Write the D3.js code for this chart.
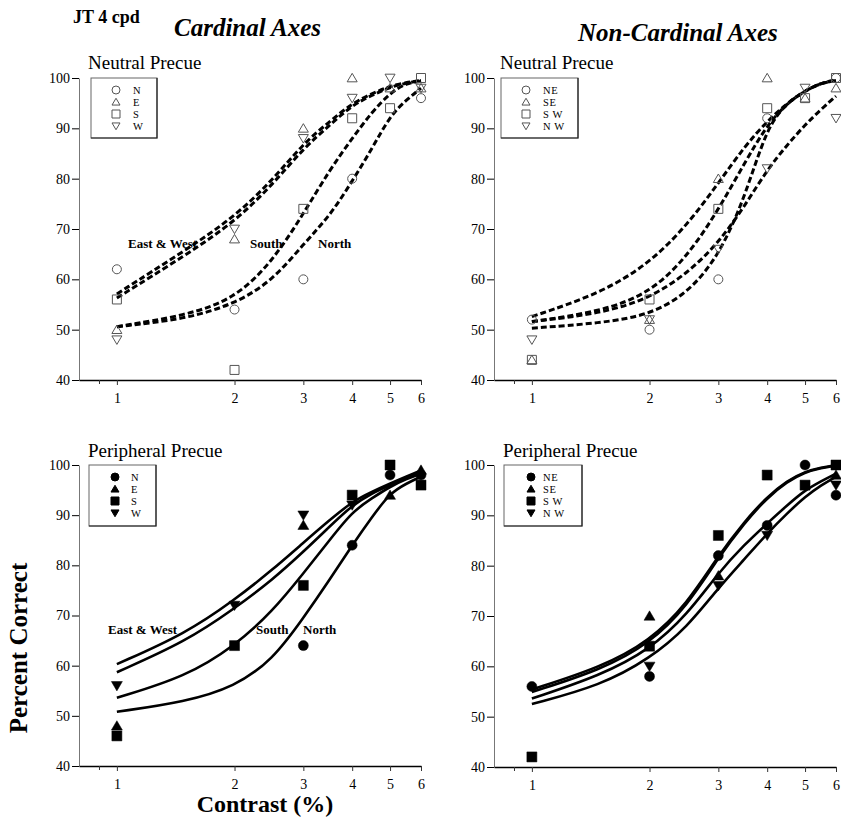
<!DOCTYPE html>
<html>
<head>
<meta charset="utf-8">
<script src="https://cdn.jsdelivr.net/npm/d3@7"></script>
<style>
  html, body { margin: 0; padding: 0; background: #fff; }
  svg { display: block; }
  text { font-family: "Liberation Serif", "Times New Roman", serif; fill: #000; }
</style>
</head>
<body>
<svg id="chart" width="841" height="822"></svg>
<script>
// ---------------- DATA ----------------
const contrastTicks = [1, 2, 3, 4, 5, 6];
const minorContrastTicks = [0.9];
const percentTicks = [40, 50, 60, 70, 80, 90, 100];
const pointContrast = [1, 2, 3, 4, 5, 6];
const curveContrast = [1, 1.5, 2, 2.5, 3, 3.5, 4, 4.5, 5, 5.5, 6];

const cardinalLabels = ["N", "E", "S", "W"];
const nonCardinalLabels = ["NE", "SE", "S W", "N W"];

// Neutral precue, cardinal axes (N, E, S, W)
const neutralCardN = [62, 54, 60, 80, null, 96];
const neutralCardE = [50, 68, 90, 100, 98, 98];
const neutralCardS = [56, 42, 74, 92, 94, 100];
const neutralCardW = [48, 70, 88, 96, 100, 98];
const neutralCardCurveEW1 = [57.1, 65.8, 72.4, 79.7, 87.0, 91.3, 95.0, 96.9, 98.4, 99.1, 99.5];
const neutralCardCurveEW2 = [56.3, 64.8, 71.4, 78.8, 86.0, 90.6, 94.6, 96.6, 98.2, 99.0, 99.5];
const neutralCardCurveS = [50.6, 52.8, 56.1, 63.5, 73.0, 81.7, 88.0, 93.3, 97.0, 99.0, 99.3];
const neutralCardCurveN = [50.6, 52.1, 55.1, 59.7, 67.0, 72.5, 79.5, 86.0, 92.5, 95.6, 98.0];

// Neutral precue, non-cardinal axes (NE, SE, SW, NW)
const neutralNonNE = [52, 50, 60, 92, null, 100];
const neutralNonSE = [44, 52, 80, 100, 96, 98];
const neutralNonSW = [44, 56, 74, 94, 96, 100];
const neutralNonNW = [48, 52, 66, 82, 98, 92];
const neutralNonCurveA = [52.6, 57.2, 63.2, 70.8, 79.1, 86.4, 91.4, 95.0, 97.5, 99.0, 99.5];
const neutralNonCurveB = [51.6, 53.6, 57.2, 64.5, 73.8, 83.1, 90.7, 95.0, 97.5, 99.0, 99.5];
const neutralNonCurveC = [50.3, 51.3, 52.9, 57.2, 64.5, 76.0, 90.5, 95.0, 97.5, 99.0, 99.7];
const neutralNonCurveD = [51.6, 53.2, 56.2, 61.2, 67.2, 74.5, 81.8, 86.7, 90.7, 93.8, 96.4];

// Peripheral precue, cardinal axes (N, E, S, W)
const periphCardN = [null, null, 64, 84, 98, 98];
const periphCardE = [48, null, 88, null, 94, 99];
const periphCardS = [46, 64, 76, 94, 100, 96];
const periphCardW = [56, 72, 90, 92, null, null];
const periphCardCurve1 = [60.3, 66.4, 73.1, 79.1, 84.5, 89.0, 92.7, 94.7, 96.3, 97.7, 98.9];
const periphCardCurve2 = [58.7, 64.8, 71.4, 77.1, 82.7, 87.7, 92.0, 94.4, 96.0, 97.5, 98.7];
const periphCardCurve3 = [53.6, 57.8, 63.9, 70.8, 78.4, 85.0, 90.7, 93.4, 95.7, 97.2, 98.3];
const periphCardCurve4 = [50.8, 52.8, 55.8, 61.1, 69.5, 77.1, 84.0, 89.7, 94.4, 96.3, 97.7];

// Peripheral precue, non-cardinal axes (NE, SE, SW, NW)
const periphNonNE = [56, 58, 82, 88, 100, 94];
const periphNonSE = [null, 70, 78, null, null, 98];
const periphNonSW = [42, 64, 86, 98, 96, 100];
const periphNonNW = [null, 60, 76, 86, null, 96];
const periphNonCurveA = [55.4, 59.8, 65.0, 72.5, 82.0, 88.8, 93.7, 96.9, 98.7, 99.5, 100.0];
const periphNonCurveB = [54.9, 59.3, 64.5, 72.0, 81.6, 88.5, 93.5, 96.7, 98.6, 99.4, 99.9];
const periphNonCurveC = [53.6, 58.2, 63.3, 70.3, 78.6, 84.2, 88.4, 92.0, 95.0, 96.8, 98.3];
const periphNonCurveD = [52.5, 56.2, 61.5, 67.8, 75.6, 81.3, 86.4, 90.4, 93.7, 96.0, 97.7];

// ---------------- LAYOUT ----------------
const svg = d3.select("#chart");
const FONT = '"Liberation Serif", "Times New Roman", serif';

const panels = [
  { x0: 79, x1: 421, yTop: 78, yBot: 380, filled: false, dashed: true,
    title: "Neutral Precue", titleX: 88, titleY: 69,
    labels: cardinalLabels, legend: { x: 91, y: 78, w: 66, h: 60, sx: 116, tx: 133 },
    series: [neutralCardN, neutralCardE, neutralCardS, neutralCardW],
    curves: [neutralCardCurveEW1, neutralCardCurveEW2, neutralCardCurveS, neutralCardCurveN],
    notes: [["East & West", 128, 248], ["South", 250, 248], ["North", 318, 248]] },
  { x0: 494, x1: 836, yTop: 78, yBot: 380, filled: false, dashed: true,
    title: "Neutral Precue", titleX: 500, titleY: 69,
    labels: nonCardinalLabels, legend: { x: 501, y: 78, w: 77, h: 60, sx: 526, tx: 543 },
    series: [neutralNonNE, neutralNonSE, neutralNonSW, neutralNonNW],
    curves: [neutralNonCurveA, neutralNonCurveB, neutralNonCurveC, neutralNonCurveD],
    notes: [] },
  { x0: 79, x1: 421, yTop: 465, yBot: 766, filled: true, dashed: false,
    title: "Peripheral Precue", titleX: 88, titleY: 457,
    labels: cardinalLabels, legend: { x: 89, y: 465, w: 67, h: 61, sx: 115, tx: 131 },
    series: [periphCardN, periphCardE, periphCardS, periphCardW],
    curves: [periphCardCurve1, periphCardCurve2, periphCardCurve3, periphCardCurve4],
    notes: [["East & West", 108, 634], ["South", 256, 634], ["North", 303, 634]] },
  { x0: 494, x1: 836, yTop: 465, yBot: 767, filled: true, dashed: false,
    title: "Peripheral Precue", titleX: 503, titleY: 457,
    labels: nonCardinalLabels, legend: { x: 504, y: 465, w: 78, h: 61, sx: 531, tx: 543 },
    series: [periphNonNE, periphNonSE, periphNonSW, periphNonNW],
    curves: [periphNonCurveA, periphNonCurveB, periphNonCurveC, periphNonCurveD],
    notes: [] }
];

// marker paths: 0 circle, 1 triangle up, 2 square, 3 triangle down
function markerPath(kind, s) {
  const p = d3.path();
  if (kind === 0) { p.arc(0, 0, s / 2, 0, 2 * Math.PI); p.closePath(); }
  else if (kind === 2) { p.rect(-s / 2, -s / 2, s, s); }
  else {
    const h = s * 0.85, dir = kind === 1 ? 1 : -1;
    p.moveTo(0, -dir * h * 0.55);
    p.lineTo(s / 2, dir * h * 0.45);
    p.lineTo(-s / 2, dir * h * 0.45);
    p.closePath();
  }
  return p.toString();
}

panels.forEach(P => {
  const x = d3.scaleLog().domain([0.8, 6]).range([P.x0, P.x1]);
  const y = d3.scaleLinear().domain([40, 100]).range([P.yBot, P.yTop]);
  const g = svg.append("g");

  // y axis
  const ya = g.append("g").attr("transform", `translate(${P.x0},0)`)
    .call(d3.axisLeft(y).tickValues(percentTicks).tickSize(7).tickPadding(2).tickSizeOuter(0));
  ya.select(".domain").attr("stroke", "#777").attr("stroke-width", 1);
  ya.selectAll(".tick line").attr("stroke", "#000");
  ya.selectAll("text").style("font-family", FONT).style("font-size", "14px").attr("fill", "#000");

  // x axis
  const xa = g.append("g").attr("transform", `translate(0,${P.yBot})`)
    .call(d3.axisBottom(x).tickValues(contrastTicks).tickFormat(d3.format("d"))
      .tickSize(5).tickPadding(8).tickSizeOuter(0));
  xa.select(".domain").attr("stroke", "#000").attr("stroke-width", 1.4);
  xa.selectAll(".tick line").attr("stroke", "#333");
  xa.selectAll("text").style("font-family", FONT).style("font-size", "14px").attr("fill", "#000");
  const xm = g.append("g").attr("transform", `translate(0,${P.yBot})`)
    .call(d3.axisBottom(x).tickValues(minorContrastTicks).tickFormat("").tickSize(4).tickSizeOuter(0));
  xm.select(".domain").remove();
  xm.selectAll(".tick line").attr("stroke", "#333");

  // curves (smooth B-spline through the sampled fit values)
  const line = d3.line().x(d => x(d[0])).y(d => y(d[1])).curve(d3.curveBasis);
  P.curves.forEach(cv => {
    g.append("path")
      .attr("d", line(curveContrast.map((c, i) => [c, cv[i]])))
      .attr("fill", "none").attr("stroke", "#000")
      .attr("stroke-width", P.dashed ? 3 : 2.6)
      .attr("stroke-dasharray", P.dashed ? "6,3" : null)
      .attr("stroke-linecap", "butt");
  });

  // points
  P.series.forEach((vals, k) => {
    const size = k === 0 ? 10 : (k === 2 ? 10 : 11);
    g.append("g").selectAll("path")
      .data(pointContrast.map((c, i) => [c, vals[i]]).filter(d => d[1] != null))
      .join("path")
      .attr("transform", d => `translate(${x(d[0])},${y(d[1])})`)
      .attr("d", markerPath(k, P.filled ? size : size - 1))
      .attr("fill", P.filled ? "#000" : "none")
      .attr("stroke", P.filled ? "#000" : "#555")
      .attr("stroke-width", P.filled ? 0.5 : 1);
  });

  // legend
  const L = P.legend;
  g.append("rect").attr("x", L.x).attr("y", L.y).attr("width", L.w).attr("height", L.h)
    .attr("fill", "#fff").attr("stroke", "#666").attr("stroke-width", 1);
  g.append("path")
    .attr("d", `M${L.x + L.w},${L.y} V${L.y + L.h} H${L.x}`)
    .attr("fill", "none").attr("stroke", "#222").attr("stroke-width", 1.2);
  P.labels.forEach((lab, k) => {
    const cy = L.y + 12 + k * 12;
    g.append("path").attr("transform", `translate(${L.sx},${cy})`)
      .attr("d", markerPath(k, 8))
      .attr("fill", P.filled ? "#000" : "none")
      .attr("stroke", P.filled ? "#000" : "#555").attr("stroke-width", 1);
    g.append("text").attr("x", L.tx).attr("y", cy + 4)
      .style("font-size", "10.5px").style("letter-spacing", "0.6px")
      .text(lab);
  });

  // panel title
  g.append("text").attr("x", P.titleX).attr("y", P.titleY)
    .style("font-size", "19px").text(P.title);

  // curve notes
  P.notes.forEach(n => {
    g.append("text").attr("x", n[1]).attr("y", n[2])
      .style("font-size", "13px").style("font-weight", "bold").text(n[0]);
  });
});

// headings
svg.append("text").attr("x", 73).attr("y", 23)
  .style("font-size", "18px").style("font-weight", "bold").text("JT 4 cpd");
svg.append("text").attr("x", 174).attr("y", 36)
  .style("font-size", "25px").style("font-weight", "bold").style("font-style", "italic")
  .text("Cardinal Axes");
svg.append("text").attr("x", 578).attr("y", 41)
  .style("font-size", "25px").style("font-weight", "bold").style("font-style", "italic")
  .text("Non-Cardinal Axes");
svg.append("text").attr("transform", "translate(27,648) rotate(-90)")
  .attr("text-anchor", "middle")
  .style("font-size", "25px").style("font-weight", "bold").text("Percent Correct");
svg.append("text").attr("x", 265).attr("y", 812).attr("text-anchor", "middle")
  .style("font-size", "24px").style("font-weight", "bold").text("Contrast (%)");
</script>
</body>
</html>
